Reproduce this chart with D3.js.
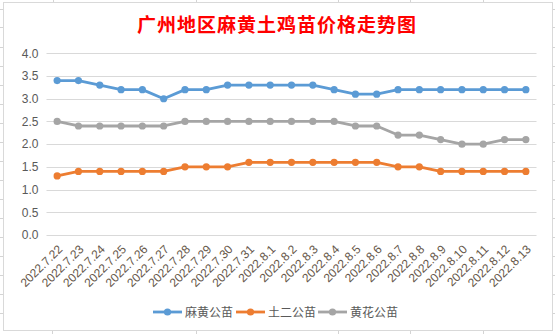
<!DOCTYPE html>
<html><head><meta charset="utf-8">
<script src="https://cdn.jsdelivr.net/npm/d3@7/dist/d3.min.js"></script>
<style>body{margin:0;background:#fff;}svg{display:block;}</style>
</head><body><svg id="c" width="555" height="334"></svg>
<script>
const title = "广州地区麻黄土鸡苗价格走势图";
const categories = ["2022.7.22","2022.7.23","2022.7.24","2022.7.25","2022.7.26","2022.7.27","2022.7.28","2022.7.29","2022.7.30","2022.7.31","2022.8.1","2022.8.2","2022.8.3","2022.8.4","2022.8.5","2022.8.6","2022.8.7","2022.8.8","2022.8.9","2022.8.10","2022.8.11","2022.8.12","2022.8.13"];
const seriesNames = ["麻黄公苗","土二公苗","黄花公苗"];
const mahuang = [3.4,3.4,3.3,3.2,3.2,3.0,3.2,3.2,3.3,3.3,3.3,3.3,3.3,3.2,3.1,3.1,3.2,3.2,3.2,3.2,3.2,3.2,3.2];
const tuer    = [1.3,1.4,1.4,1.4,1.4,1.4,1.5,1.5,1.5,1.6,1.6,1.6,1.6,1.6,1.6,1.6,1.5,1.5,1.4,1.4,1.4,1.4,1.4];
const huanghua= [2.5,2.4,2.4,2.4,2.4,2.4,2.5,2.5,2.5,2.5,2.5,2.5,2.5,2.5,2.4,2.4,2.2,2.2,2.1,2.0,2.0,2.1,2.1];
const yTicks = [0,0.5,1,1.5,2,2.5,3,3.5,4];
const colors = ["#5B9BD5","#ED7D31","#A5A5A5"];

const svg = d3.select("#c");
// spreadsheet grid stubs outside chart
const g0 = svg.append("g").attr("stroke","#d4d4d4").attr("stroke-width",1);
[53,196,338,410,483].forEach(x=>{g0.append("line").attr("x1",x+0.5).attr("x2",x+0.5).attr("y1",0).attr("y2",2);});
[52,196,338,410,483].forEach(x=>{g0.append("line").attr("x1",x+0.5).attr("x2",x+0.5).attr("y1",331).attr("y2",334);});
[9,27,47,66,85,104,123,142,161,180,199,218,237,256,275,294,313].forEach(y=>{
  g0.append("line").attr("x1",0).attr("x2",3).attr("y1",y+0.5).attr("y2",y+0.5);
  g0.append("line").attr("x1",553).attr("x2",555).attr("y1",y+0.5).attr("y2",y+0.5);
});
svg.append("rect").attr("x",3.5).attr("y",2.5).attr("width",549).attr("height",328)
  .attr("fill","#fff").attr("stroke","#d9d9d9");

svg.append("text").attr("x",277).attr("y",32).attr("text-anchor","middle")
  .attr("font-family","'Noto Sans CJK SC'").attr("font-weight","bold").attr("font-size",19)
  .attr("letter-spacing",1).attr("fill","#FF0000").text(title);

const x = d3.scaleBand().domain(categories).range([46.5,536.5]);
const y = d3.scaleLinear().domain([0,4]).range([235,53.3]);

const grid = svg.append("g");
grid.selectAll("line").data(yTicks).join("line")
  .attr("x1",46.5).attr("x2",536.5)
  .attr("y1",d=>Math.round(y(d))+0.5).attr("y2",d=>Math.round(y(d))+0.5)
  .attr("stroke","#d9d9d9");

const yAxis = svg.append("g").attr("transform","translate(46.5,0)")
  .call(d3.axisLeft(y).tickValues(yTicks).tickFormat(d3.format(".1f")).tickSize(0).tickPadding(8));
yAxis.select(".domain").remove();
yAxis.selectAll("text").attr("font-family","'Liberation Sans',Arial").attr("font-size",12).attr("fill","#595959");

const xAxis = svg.append("g").attr("transform","translate(0,235)")
  .call(d3.axisBottom(x).tickSize(0).tickPadding(0));
xAxis.select(".domain").remove();
xAxis.selectAll("text")
  .attr("font-family","'Liberation Sans',Arial").attr("font-size",12).attr("fill","#66574a")
  .attr("text-anchor","end").attr("dy",0)
  .attr("transform","translate(6,15) rotate(-45)");

const cx = d => x(d) + x.bandwidth()/2;
[mahuang,tuer,huanghua].forEach((vals,i)=>{
  const data = categories.map((c,j)=>({c,v:vals[j]}));
  svg.append("path").datum(data)
    .attr("d",d3.line().x(d=>cx(d.c)).y(d=>y(d.v)))
    .attr("fill","none").attr("stroke",colors[i]).attr("stroke-width",2.8).attr("stroke-linejoin","round").attr("stroke-linecap","round");
  svg.append("g").selectAll("circle").data(data).join("circle")
    .attr("cx",d=>cx(d.c)).attr("cy",d=>y(d.v)).attr("r",3.6).attr("fill",colors[i]);
});

const legX = [153,236,318];
const lg = svg.append("g");
seriesNames.forEach((n,i)=>{
  const gx = legX[i], gy = 312;
  lg.append("line").attr("x1",gx).attr("x2",gx+29).attr("y1",gy).attr("y2",gy)
    .attr("stroke",colors[i]).attr("stroke-width",2.8);
  lg.append("circle").attr("cx",gx+14.5).attr("cy",gy).attr("r",3.6).attr("fill",colors[i]);
  lg.append("text").attr("x",gx+32).attr("y",gy+4.5)
    .attr("font-family","'Noto Sans CJK SC'").attr("font-size",12).attr("fill","#595959").text(n);
});
</script></body></html>
